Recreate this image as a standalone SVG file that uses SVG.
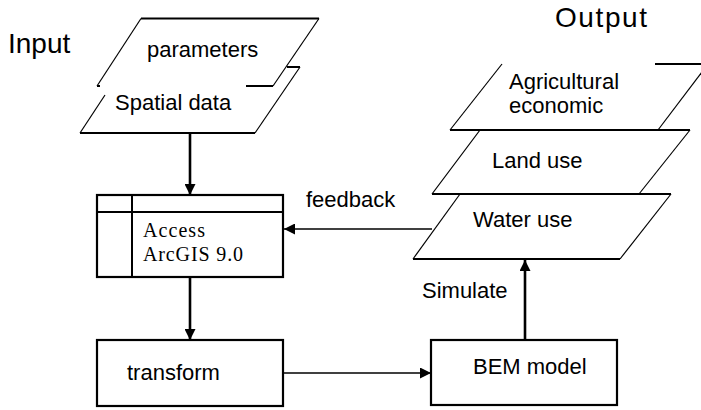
<svg xmlns="http://www.w3.org/2000/svg" width="701" height="410" viewBox="0 0 701 410">
<defs>
<style>
.t{font-family:"Liberation Sans",Arial,sans-serif;font-size:22px;fill:#000}
.big{font-family:"Liberation Sans",Arial,sans-serif;font-size:28px;fill:#000}
.serif{font-family:"Liberation Serif","Times New Roman",serif;font-size:20px;fill:#000}
.h{stroke:#000;stroke-width:2;fill:none}
.s{stroke:#000;stroke-width:1.2;fill:none}
.box{stroke:#000;stroke-width:2.2;fill:#fff}
.thick{stroke:#000;stroke-width:2.6;fill:none}
.thin{stroke:#000;stroke-width:1.3;fill:none}
</style>
<marker id="ah" viewBox="0 0 10 10" refX="10" refY="5" markerWidth="11" markerHeight="11" markerUnits="userSpaceOnUse" orient="auto">
<path d="M0,0 L10,5 L0,10 z" fill="#000"/>
</marker>
</defs>
<rect width="701" height="410" fill="#fff"/>

<g id="label-input"><text class="big" x="8" y="53">Input</text></g>
<g id="label-output"><text class="big" x="555" y="27" textLength="92">Output</text></g>

<g id="spatial-data">
<path class="s" d="M105,95 L80,133"/>
<path class="s" d="M255,133 L300,67"/>
<path class="h" d="M80,133 L255,133"/>
<path class="h" d="M287,67 L300,67"/>
<text class="t" x="115" y="110">Spatial data</text>
</g>

<g id="parameters">
<path class="s" d="M97,86 L141,18.5"/>
<path class="s" d="M319,18.5 L273,86"/>
<path class="h" d="M141,18.5 L319,18.5"/>
<path class="h" d="M97,86 L100,86 M246,86 L273,86"/>
<text class="t" x="147" y="57">parameters</text>
</g>

<g id="access-arcgis">
<rect class="box" x="97" y="195" width="186" height="82"/>
<path class="h" d="M97,212 L283,212 M132,195 L132,277"/>
<text class="serif" x="143" y="237" textLength="62">Access</text>
<text class="serif" x="143" y="261" textLength="100">ArcGIS 9.0</text>
</g>

<g id="transform">
<rect class="box" x="97" y="340" width="186" height="66"/>
<text class="t" x="127" y="380">transform</text>
</g>

<g id="bem-model">
<rect class="box" x="431" y="340" width="186" height="65"/>
<text class="t" x="473" y="374">BEM model</text>
</g>

<g id="agricultural-economic">
<path class="s" d="M502,64 L450,130"/>
<path class="s" d="M658,130 L708,64"/>
<path class="h" d="M655,64 L701,64"/>
<path class="h" d="M450,130 L658,130"/>
<text class="t" x="509" y="89">Agricultural</text>
<text class="t" x="509" y="113">economic</text>
</g>

<g id="land-use">
<path class="s" d="M480,130 L432,194"/>
<path class="s" d="M690,130 L639,194"/>
<path class="h" d="M658,130 L690,130"/>
<path class="h" d="M432,194 L639,194"/>
<text class="t" x="492" y="168">Land use</text>
</g>

<g id="water-use">
<path class="s" d="M460,194 L413,259"/>
<path class="s" d="M671,194 L620,259"/>
<path class="h" d="M639,194 L671,194"/>
<path class="h" d="M413,259 L620,259"/>
<text class="t" x="473" y="227">Water use</text>
</g>

<g id="connectors">
<path class="thick" d="M190,133 L190,195" marker-end="url(#ah)"/>
<path class="thick" d="M190,277 L190,340" marker-end="url(#ah)"/>
<path class="thin" d="M283,373 L431,373" marker-end="url(#ah)"/>
<path class="thick" d="M525,340 L525,260" marker-end="url(#ah)"/>
<path class="thin" d="M432,229 L284,229" marker-end="url(#ah)"/>
<text class="t" x="306" y="207">feedback</text>
<text class="t" x="422" y="298">Simulate</text>
</g>
</svg>
